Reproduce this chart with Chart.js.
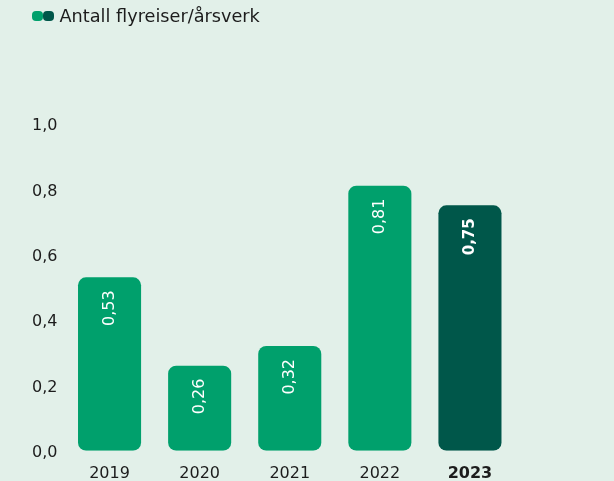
<!DOCTYPE html>
<html>
<head>
<meta charset="utf-8">
<script src="https://cdn.jsdelivr.net/npm/chart.js@4/dist/chart.umd.min.js"></script>
<style>
  html, body { margin: 0; padding: 0; background: #e2f0e9; }
  #wrap { position: relative; width: 614px; height: 481px; }
  #legend {
    position: absolute; left: 32px; top: 6px;
    display: flex; align-items: center;
    font-family: "DejaVu Sans", sans-serif; font-size: 17.7px; color: #1c1c1c;
  }
  #legend .dot { width: 11px; height: 10px; border-radius: 4px; display: inline-block; }
  #legend .dot + .dot { margin-left: -0.5px; }
  #legend .label { margin-left: 6px; }
</style>
</head>
<body>
<div id="wrap">
  <div id="legend">
    <span class="dot" style="background:#00a06c"></span>
    <span class="dot" style="background:#00574a"></span>
    <span class="label">Antall flyreiser/årsverk</span>
  </div>
  <canvas id="flightChart" width="614" height="481"></canvas>
</div>
<script>
const years = ["2019", "2020", "2021", "2022", "2023"];
const flights = [0.53, 0.26, 0.32, 0.81, 0.75];
const barColors = ["#00a06c", "#00a06c", "#00a06c", "#00a06c", "#00574a"];

const fontFamily = '"DejaVu Sans", sans-serif';
const fmt = v => v.toFixed(2).replace('.', ',');
const lastIdx = years.length - 1;

// value labels written vertically inside the top of each bar
const barLabels = {
  id: 'barLabels',
  afterDatasetsDraw(chart) {
    const ctx = chart.ctx;
    const meta = chart.getDatasetMeta(0);
    meta.data.forEach((bar, i) => {
      ctx.save();
      ctx.translate(bar.x, bar.y + 13);
      ctx.rotate(-Math.PI / 2);
      ctx.fillStyle = '#ffffff';
      ctx.font = i === lastIdx ? 'bold 15px ' + fontFamily : '16px ' + fontFamily;
      ctx.textAlign = 'right';
      ctx.textBaseline = 'middle';
      ctx.fillText(fmt(flights[i]), 0, 0);
      ctx.restore();
    });
  }
};

let ftx = document.getElementById('flightChart').getContext('2d');

let flightChart = new Chart(ftx, {
  type: "bar",
  data: {
    labels: years,
    datasets: [{
      label: "Antall flyreiser/årsverk",
      data: flights,
      backgroundColor: barColors,
      borderRadius: 8,
      borderSkipped: false,
      categoryPercentage: 1,
      barPercentage: 0.7,
    }]
  },
  options: {
    responsive: false,
    animation: false,
    layout: {
      padding: { top: 123.5, right: 99, left: 0, bottom: 0 }
    },
    plugins: {
      legend: { display: false },
      tooltip: { enabled: false },
    },
    scales: {
      x: {
        grid: { display: false, drawTicks: false },
        border: { display: false },
        ticks: {
          color: '#1c1c1c',
          padding: 14,
          font: ctx => ({
            family: fontFamily,
            size: 16,
            weight: ctx.index === lastIdx ? 'bold' : 'normal',
          }),
        },
        afterFit: s => { s.height = 30.3; },
      },
      y: {
        min: 0,
        max: 1,
        grid: { display: false, drawTicks: false },
        border: { display: false },
        ticks: {
          stepSize: 0.2,
          color: '#1c1c1c',
          padding: 7,
          labelOffset: 2.5,
          font: { family: fontFamily, size: 16 },
          callback: v => v.toFixed(1).replace('.', ','),
        },
        afterFit: s => { s.width = 64.5; },
      }
    }
  },
  plugins: [barLabels]
});
</script>
</body>
</html>
